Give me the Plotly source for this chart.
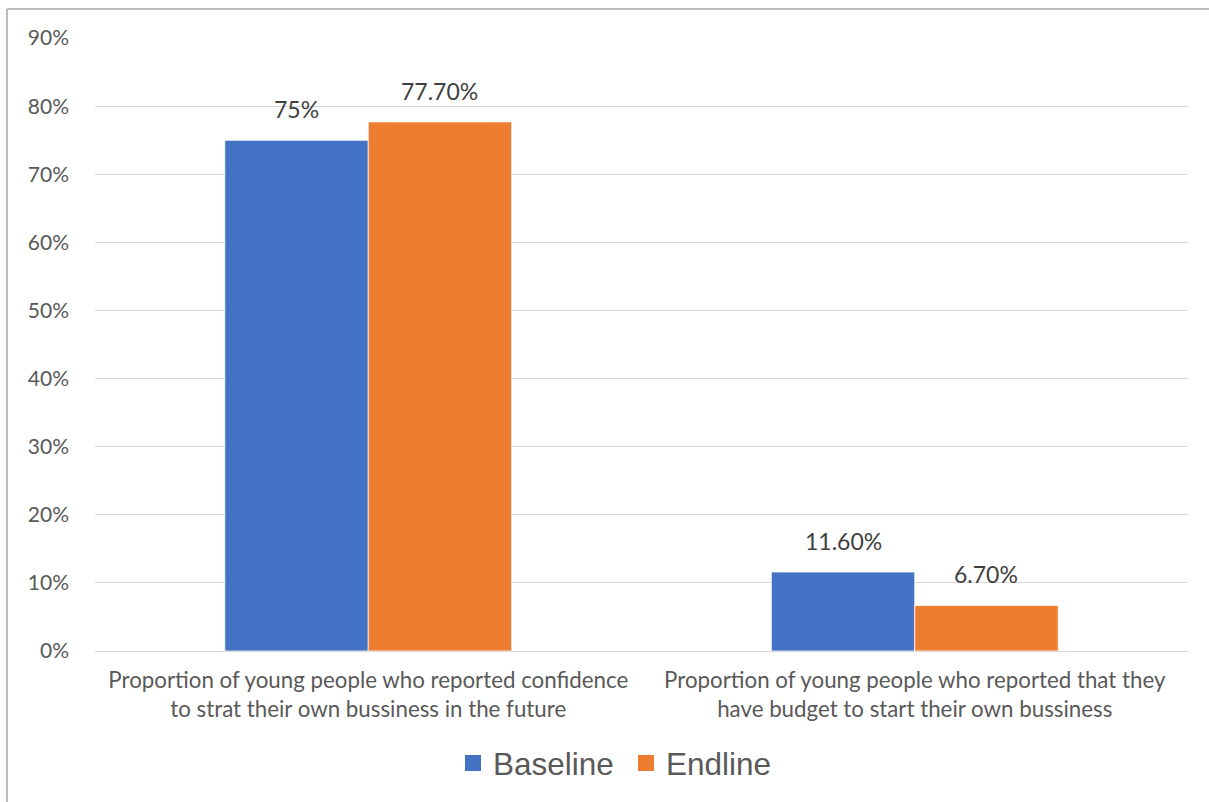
import plotly.graph_objects as go

categories = [
    "Proportion of young people who reported confidence<br>to strat their own bussiness in the future",
    "Proportion of young people who reported that they<br>have budget to start their own bussiness",
]
baseline = [75, 11.6]
endline = [77.7, 6.7]
baseline_labels = ["75%", "11.60%"]
endline_labels = ["77.70%", "6.70%"]
series_names = ["Baseline", "Endline"]
series_colors = ["#4472C4", "#ED7D31"]
y_ticks = [0, 10, 20, 30, 40, 50, 60, 70, 80, 90]
y_tick_labels = ["0%", "10%", "20%", "30%", "40%", "50%", "60%", "70%", "80%", "90%"]

W, H = 1209, 802
L, R, T, B = 95, 21, 38, 151
pw, ph = W - L - R, H - T - B
BARGAP = 0.475

def px(x):
    return (x - L) / pw

def py(y):
    return (H - B - y) / ph

fig = go.Figure()
for name, vals, color in zip(series_names, [baseline, endline], series_colors):
    fig.add_trace(go.Bar(
        name=name, x=categories, y=vals, showlegend=False,
        marker=dict(color=color, line=dict(color="white", width=0.8)),
    ))
    fig.add_trace(go.Scatter(
        name=name, x=[None], y=[None], mode="markers",
        marker=dict(symbol="square", size=16, color=color), showlegend=True,
    ))

# data labels placed through the axes
half = (1 - BARGAP) / 4
annotations = []
for i, cat in enumerate(categories):
    for off, vals, labels in [(-half, baseline, baseline_labels), (half, endline, endline_labels)]:
        annotations.append(dict(
            x=i + off, y=vals[i], xref="x", yref="y", text=labels[i], showarrow=False,
            yanchor="bottom", yshift=15, font=dict(family="Lato", size=23, color="#404040"),
        ))

fig.update_layout(
    width=W, height=H,
    margin=dict(l=L, r=R, t=T, b=B, autoexpand=False),
    paper_bgcolor="white", plot_bgcolor="white",
    barmode="group", bargap=BARGAP, bargroupgap=0,
    font=dict(family="Lato", color="#595959"),
    showlegend=True,
    legend=dict(orientation="h", x=px(626), xanchor="center", y=py(763), yanchor="middle",
                font=dict(family="Liberation Sans, Arial", size=31.5, color="#595959"),
                itemwidth=30, tracegroupgap=0, entrywidth=128),
    xaxis=dict(showgrid=False, showline=False, ticks="", ticklabelstandoff=14,
               tickfont=dict(family="Lato", size=22.3, color="#595959")),
    yaxis=dict(range=[0, 90.02], tickmode="array", tickvals=y_ticks, ticktext=y_tick_labels,
               showgrid=True, gridcolor="#d9d9d9",
               gridwidth=1, zeroline=True, zerolinecolor="#d9d9d9", zerolinewidth=1, showline=False,
               tickfont=dict(family="Lato", size=21, color="#595959"), ticklabelstandoff=25),
    annotations=annotations,
    shapes=[
        dict(type="line", xref="paper", yref="paper", x0=px(7), x1=px(7), y0=py(H + 5), y1=py(9),
             line=dict(color="#a6a6a6", width=1.5)),
        dict(type="line", xref="paper", yref="paper", x0=px(7), x1=px(W + 5), y0=py(9), y1=py(9),
             line=dict(color="#a6a6a6", width=1.5)),
    ],
)

fig.write_html("out.html")
